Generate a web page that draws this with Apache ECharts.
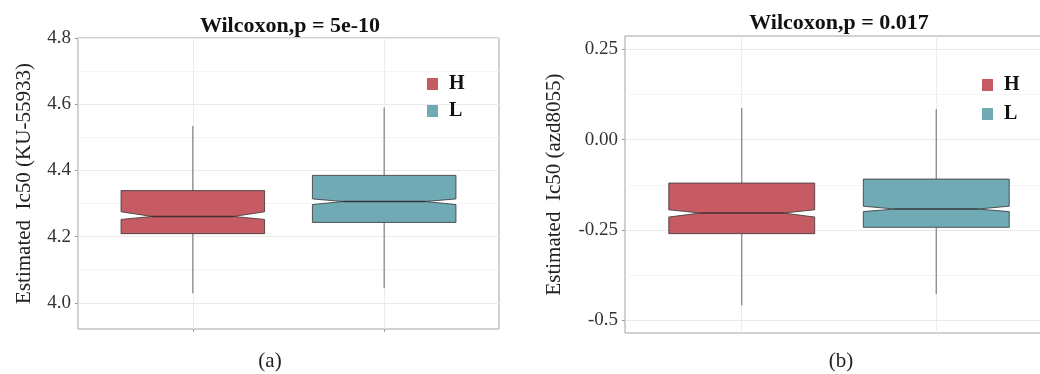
<!DOCTYPE html>
<html>
<head>
<meta charset="utf-8">
<script src="https://cdn.jsdelivr.net/npm/echarts@6/dist/echarts.min.js"></script>
<style>
  html, body { margin: 0; padding: 0; background: #fff; overflow: hidden; width: 1040px; height: 374px; }
  /* the right-hand panel runs a little past the page edge */
  #chart { width: 1060px; height: 374px; }
</style>
</head>
<body>
<div id="chart"></div>
<script>
// Groups and their positions on the x scale
const categories = ['H', 'L'];
const categoryPos = [1, 2];

// Box summaries: [lower whisker, Q1, notch low, median, notch high, Q3, upper whisker]
const ku55933H = [4.029, 4.209, 4.252, 4.261, 4.275, 4.339, 4.534];
const ku55933L = [4.044, 4.243, 4.297, 4.306, 4.314, 4.385, 4.590];
const azd8055H = [-0.459, -0.260, -0.214, -0.203, -0.194, -0.120, 0.088];
const azd8055L = [-0.427, -0.2425, -0.199, -0.192, -0.184, -0.109, 0.085];

// Tick values and labels
const yTicksA = [4.0, 4.2, 4.4, 4.6, 4.8];
const yMinorA = [4.1, 4.3, 4.5, 4.7];
const yTicksB = [-0.5, -0.25, 0, 0.25];
const yLabelsB = ['-0.5', '-0.25', '0.00', '0.25'];
const yMinorB = [-0.375, -0.125, 0.125];

const titles = ['Wilcoxon,p = 5e-10', 'Wilcoxon,p = 0.017'];
const yNames = ['Estimated  Ic50 (KU-55933)', 'Estimated  Ic50 (azd8055)'];
const panelTags = ['(a)', '(b)'];

const colors = { H: '#c75b64', L: '#6faab5' };
const serif = '"Liberation Serif", "DejaVu Serif", serif';

const BOX_HALF = 0.375;
const NOTCH_RATIO = 0.57;

function renderNotchedBox(params, api) {
  const x = api.value(0);
  const lo = api.value(1), q1 = api.value(2), nLo = api.value(3), med = api.value(4),
        nHi = api.value(5), q3 = api.value(6), hi = api.value(7);
  const L = x - BOX_HALF, R = x + BOX_HALF;
  const iL = x - BOX_HALF * NOTCH_RATIO, iR = x + BOX_HALF * NOTCH_RATIO;
  const c = (a, b) => api.coord([a, b]);
  const color = api.visual('color');
  const whiskerStyle = { stroke: '#8a8a8a', lineWidth: 1.3 };
  const p1 = c(x, hi), p2 = c(x, q3), p3 = c(x, q1), p4 = c(x, lo);
  const mL = c(iL, med), mR = c(iR, med);
  return {
    type: 'group',
    children: [
      { type: 'line', shape: { x1: p1[0], y1: p1[1], x2: p2[0], y2: p2[1] }, style: whiskerStyle },
      { type: 'line', shape: { x1: p3[0], y1: p3[1], x2: p4[0], y2: p4[1] }, style: whiskerStyle },
      {
        type: 'polygon',
        shape: {
          points: [
            c(L, q3), c(R, q3), c(R, nHi), c(iR, med), c(R, nLo), c(R, q1),
            c(L, q1), c(L, nLo), c(iL, med), c(L, nHi)
          ]
        },
        style: { fill: color, stroke: 'rgba(60,60,60,0.85)', lineWidth: 1 }
      },
      {
        type: 'line',
        shape: { x1: mL[0], y1: mL[1], x2: mR[0], y2: mR[1] },
        style: { stroke: 'rgba(45,35,38,0.85)', lineWidth: 1.6 }
      }
    ]
  };
}

const grids = [
  { left: 78, top: 38, width: 421, height: 291 },
  { left: 625, top: 36, width: 428, height: 297 }
];
const yRanges = [[3.921, 4.8], [-0.535, 0.287]];

const option = {
  animation: false,
  backgroundColor: '#ffffff',
  grid: grids.map(g => Object.assign({
    show: true, borderColor: '#a3a3a3', borderWidth: 1, backgroundColor: '#ffffff'
  }, g)),
  xAxis: [0, 1].map(i => ({
    type: 'value', gridIndex: i, min: 0.4, max: 2.6,
    axisLine: { show: false },
    axisTick: { show: true, length: 3, customValues: categoryPos, lineStyle: { color: '#9a9a9a' } },
    axisLabel: { show: false },
    splitLine: { show: true, lineStyle: { color: '#ececec', width: 1 } }
  })),
  yAxis: [
    {
      type: 'value', gridIndex: 0, min: yRanges[0][0], max: yRanges[0][1],
      name: yNames[0], nameLocation: 'middle', nameGap: 43, nameRotate: 90,
      nameTextStyle: { fontFamily: serif, fontSize: 21, color: '#222' },
      axisLine: { show: false },
      axisTick: { show: true, length: 3, customValues: yTicksA, lineStyle: { color: '#9a9a9a' } },
      axisLabel: {
        customValues: yTicksA, fontFamily: serif, fontSize: 19, color: '#333', margin: 7,
        formatter: v => v.toFixed(1)
      },
      splitLine: { show: true, lineStyle: { color: '#ebebeb', width: 1.2 } }
    },
    {
      type: 'value', gridIndex: 0, min: yRanges[0][0], max: yRanges[0][1],
      axisLine: { show: false },
      axisTick: { show: false, customValues: yMinorA },
      axisLabel: { show: false },
      splitLine: { show: true, lineStyle: { color: '#f4f4f4', width: 1 } }
    },
    {
      type: 'value', gridIndex: 1, min: yRanges[1][0], max: yRanges[1][1],
      name: yNames[1], nameLocation: 'middle', nameGap: 60, nameRotate: 90,
      nameTextStyle: { fontFamily: serif, fontSize: 21, color: '#222' },
      axisLine: { show: false },
      axisTick: { show: true, length: 3, customValues: yTicksB, lineStyle: { color: '#9a9a9a' } },
      axisLabel: {
        customValues: yTicksB, fontFamily: serif, fontSize: 19, color: '#333', margin: 7,
        formatter: v => {
          const k = yTicksB.findIndex(t => Math.abs(t - v) < 1e-9);
          return k >= 0 ? yLabelsB[k] : '';
        }
      },
      splitLine: { show: true, lineStyle: { color: '#ebebeb', width: 1.2 } }
    },
    {
      type: 'value', gridIndex: 1, min: yRanges[1][0], max: yRanges[1][1],
      axisLine: { show: false },
      axisTick: { show: false, customValues: yMinorB },
      axisLabel: { show: false },
      splitLine: { show: true, lineStyle: { color: '#f4f4f4', width: 1 } }
    }
  ],
  legend: [
    { left: 422, top: 69, orient: 'vertical', itemGap: 7 },
    { left: 977, top: 70, orient: 'vertical', itemGap: 9 }
  ].map(l => Object.assign({
    data: categories,
    icon: 'rect', itemWidth: 11, itemHeight: 12,
    textStyle: { fontFamily: serif, fontSize: 20, fontWeight: 'bold', color: '#111', padding: [0, 0, 0, 6] },
    selectedMode: false
  }, l)),
  series: [
    { name: 'H', data: ku55933H, axis: 0 },
    { name: 'L', data: ku55933L, axis: 0 },
    { name: 'H', data: azd8055H, axis: 1 },
    { name: 'L', data: azd8055L, axis: 1 }
  ].map(s => ({
    type: 'custom',
    name: s.name,
    xAxisIndex: s.axis,
    yAxisIndex: s.axis * 2,
    itemStyle: { color: colors[s.name] },
    encode: { x: 0, y: [1, 2, 3, 4, 5, 6, 7] },
    renderItem: renderNotchedBox,
    data: [[categoryPos[categories.indexOf(s.name)]].concat(s.data)]
  })),
  graphic: [
    { type: 'text', x: 290, y: 26, style: { text: titles[0], fontFamily: serif, fontSize: 22, fontWeight: 'bold', fill: '#111', align: 'center', verticalAlign: 'middle' } },
    { type: 'text', x: 839, y: 23, style: { text: titles[1], fontFamily: serif, fontSize: 22, fontWeight: 'bold', fill: '#111', align: 'center', verticalAlign: 'middle' } },
    { type: 'text', x: 270, y: 361, style: { text: panelTags[0], fontFamily: serif, fontSize: 21, fill: '#222', align: 'center', verticalAlign: 'middle' } },
    { type: 'text', x: 841, y: 361, style: { text: panelTags[1], fontFamily: serif, fontSize: 21, fill: '#222', align: 'center', verticalAlign: 'middle' } }
  ]
};

const chart = echarts.init(document.getElementById('chart'), null, { renderer: 'canvas' });
chart.setOption(option);
</script>
</body>
</html>
